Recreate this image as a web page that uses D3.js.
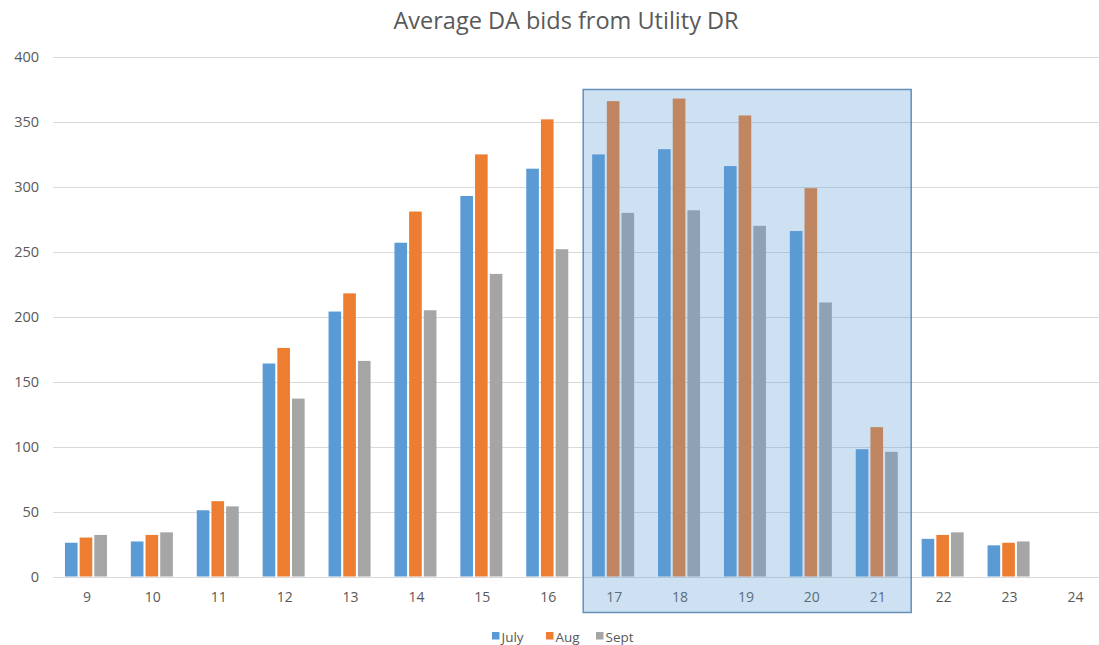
<!DOCTYPE html>
<html>
<head>
<meta charset="utf-8">
<script src="https://cdn.jsdelivr.net/npm/d3@7"></script>
<style>
  html, body { margin: 0; padding: 0; background: #ffffff; }
  svg { display: block; }
  text { font-family: "Open Sans", "Liberation Sans", sans-serif; }
</style>
</head>
<body>
<svg id="chart" width="1099" height="645"></svg>
<script>
// ---- data ----
const title = "Average DA bids from Utility DR";
const hours = ["9","10","11","12","13","14","15","16","17","18","19","20","21","22","23","24"];
const seriesNames = ["July", "Aug", "Sept"];
const july = [26, 27, 51, 164, 204, 257, 293, 314, 325, 329, 316, 266, 98, 29, 24, null];
const aug  = [30, 32, 58, 176, 218, 281, 325, 352, 366, 368, 355, 299, 115, 32, 26, null];
const sept = [32, 34, 54, 137, 166, 205, 233, 252, 280, 282, 270, 211, 96, 34, 27, null];
const yTicks = [0, 50, 100, 150, 200, 250, 300, 350, 400];
const seriesColors = ["#5b9bd5", "#ed7d31", "#a5a5a5"];
const highlightFrom = "17";
const highlightTo = "21";
const highlightTop = 375;

const values = [july, aug, sept];

// ---- layout ----
const svg = d3.select("#chart");
const W = 1099, H = 645;
const plotLeft = 54, plotRight = 54 + 16 * 65.9;
const yTop = 57, yBottom = 576.5;

const x0 = d3.scaleBand().domain(hours).range([plotLeft, plotRight]).padding(0);
const y = d3.scaleLinear().domain([0, 400]).range([yBottom, yTop]);

// title
svg.append("text")
  .attr("x", 566).attr("y", 29)
  .attr("text-anchor", "middle")
  .attr("font-size", 23.5)
  .attr("fill", "#595959")
  .text(title);

// gridlines
svg.append("g")
  .selectAll("line")
  .data(yTicks)
  .join("line")
  .attr("x1", 53).attr("x2", W)
  .attr("y1", d => Math.round(y(d)) + 0.5)
  .attr("y2", d => Math.round(y(d)) + 0.5)
  .attr("stroke", "#d9d9d9")
  .attr("stroke-width", 1.2);

// y axis labels
const yAxis = d3.axisLeft(y).tickValues(yTicks).tickSize(0).tickPadding(0);
const gy = svg.append("g").attr("transform", "translate(39,0)").call(yAxis);
gy.select(".domain").remove();
gy.selectAll("text")
  .attr("font-size", 14.5)
  .attr("fill", "#595959")
  .attr("font-family", "'Open Sans', sans-serif");

// x axis labels
const xAxis = d3.axisBottom(x0).tickSize(0).tickPadding(0);
const gx = svg.append("g").attr("transform", "translate(0,592)").call(xAxis);
gx.select(".domain").remove();
gx.selectAll("text")
  .attr("font-size", 14)
  .attr("fill", "#595959")
  .attr("font-family", "'Open Sans', sans-serif");

// bars
const barData = [];
hours.forEach((h, i) => {
  seriesNames.forEach((s, j) => {
    if (values[j][i] != null) barData.push({ hour: h, series: s, value: values[j][i], color: seriesColors[j] });
  });
});

const groupW = 42;
const x1 = d3.scaleBand().domain(seriesNames).range([0, groupW]).paddingInner(0.14).paddingOuter(0);

svg.append("g")
  .selectAll("rect")
  .data(barData)
  .join("rect")
  .attr("x", d => x0(d.hour) + x0.bandwidth() / 2 - groupW / 2 - 1 + x1(d.series))
  .attr("y", d => y(d.value))
  .attr("width", x1.bandwidth())
  .attr("height", d => y(0) - y(d.value))
  .attr("fill", d => d.color);

// highlight box (semi-transparent overlay)
const hx1 = x0(highlightFrom) + 2;
const hx2 = x0(highlightTo) + x0.bandwidth() + 0.5;
svg.append("rect")
  .attr("x", hx1)
  .attr("y", y(highlightTop))
  .attr("width", hx2 - hx1)
  .attr("height", (yBottom + 36) - y(highlightTop))
  .attr("fill", "#5b9bd5")
  .attr("fill-opacity", 0.3)
  .attr("stroke", "#4e7fb0")
  .attr("stroke-opacity", 0.85)
  .attr("stroke-width", 1.5);

// legend
const legendItems = [
  { name: "July", color: seriesColors[0], x: 492 },
  { name: "Aug", color: seriesColors[1], x: 546 },
  { name: "Sept", color: seriesColors[2], x: 596 }
];
const lg = svg.append("g");
legendItems.forEach(it => {
  lg.append("rect").attr("x", it.x).attr("y", 632).attr("width", 7.5).attr("height", 7.5).attr("fill", it.color);
  lg.append("text").attr("x", it.x + 9.5).attr("y", 642)
    .attr("font-size", 13.5).attr("fill", "#595959").text(it.name);
});
</script>
</body>
</html>
